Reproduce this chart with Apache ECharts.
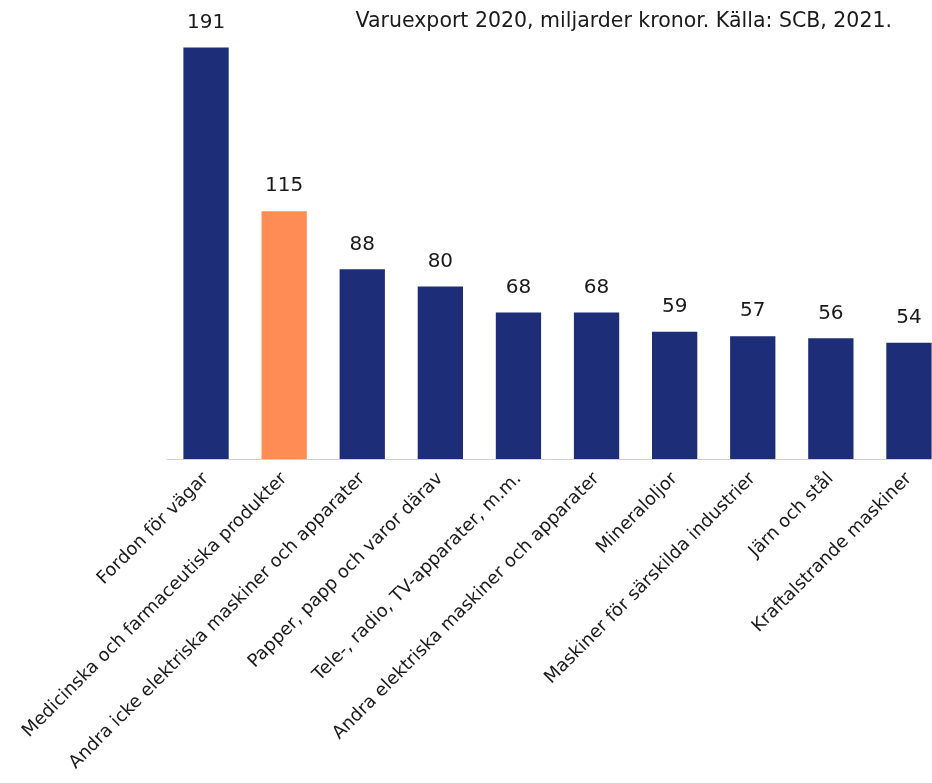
<!DOCTYPE html>
<html><head><meta charset="utf-8">
<script src="https://cdn.jsdelivr.net/npm/echarts@6/dist/echarts.min.js"></script>
<style>html,body{margin:0;padding:0;background:#fff}#c{width:932px;height:783px}</style>
</head><body><div id="c"></div>
<script>
const categories = ["Fordon för vägar","Medicinska och farmaceutiska produkter","Andra icke elektriska maskiner och apparater","Papper, papp och varor därav","Tele-, radio, TV-apparater, m.m.","Andra elektriska maskiner och apparater","Mineraloljor","Maskiner för särskilda industrier","Järn och stål","Kraftalstrande maskiner"];
const values = [191,115,88,80,68,68,59,57,56,54];
const highlightIndex = 1;
const titleText = "Varuexport 2020, miljarder kronor. Källa: SCB, 2021.";
const FONT = "'DejaVu Sans', sans-serif";
const chart = echarts.init(document.getElementById('c'), null, {renderer:'canvas'});
chart.setOption({
  animation:false,
  title:{text:titleText,right:35,top:6,textStyle:{fontFamily:FONT,fontSize:20.5,fontWeight:'normal',color:'#1a1a1a'}},
  grid:{left:167,width:781,top:28,height:431,containLabel:false,outerBoundsMode:'none'},
  xAxis:{type:'category',data:categories,
    axisLine:{lineStyle:{color:'#d0d0d0',width:1}},axisTick:{show:false},
    axisLabel:{rotate:45,interval:0,margin:17,fontFamily:FONT,fontSize:18,color:'#1a1a1a'}},
  yAxis:{type:'value',min:0,max:200,show:false,splitLine:{show:false}},
  series:[{type:'bar',barCategoryGap:'42%',
    data:values.map((v,i)=>({value:v,itemStyle:{color:i===highlightIndex?'#FF8C55':'#1E2D78'}})),
    label:{show:true,position:'top',distance:15,fontFamily:FONT,fontSize:20,color:'#1a1a1a'}}]
});
</script></body></html>
